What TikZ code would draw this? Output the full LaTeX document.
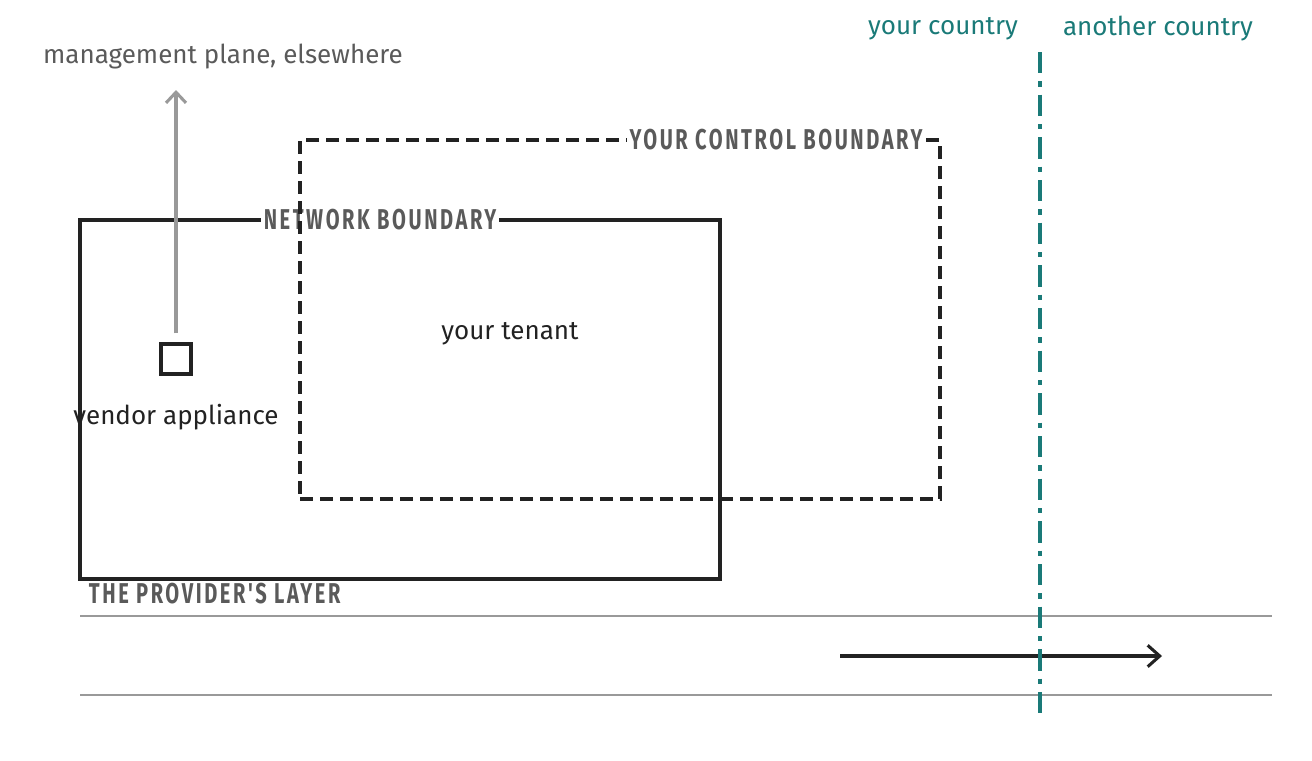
\documentclass[tikz,border=0pt]{standalone}
\usepackage{fontspec}
\setmainfont{Fira Sans}
\newfontfamily\capsfont[FakeStretch=0.7,LetterSpace=9]{Fira Sans Bold}
\usetikzlibrary{arrows.meta}
\definecolor{ink}{HTML}{222222}
\definecolor{labgray}{HTML}{5A5A5A}
\definecolor{linegray}{HTML}{999999}
\definecolor{teal}{HTML}{1A7A78}
\begin{document}
\begin{tikzpicture}[x=0.75pt,y=-0.75pt,
  boundary/.style={draw=ink,line width=2.3pt},
  dashbound/.style={draw=ink,line width=2.3pt,dash pattern=on 10pt off 5pt},
  caplabel/.style={fill=white,text=labgray,inner xsep=2pt,inner ysep=1pt,font=\capsfont\fontsize{21.5}{22}\selectfont},
  plain/.style={text=ink,font=\fontsize{19.5}{22}\selectfont},
  graylab/.style={text=labgray,font=\fontsize{19.5}{22}\selectfont},
  country/.style={text=teal,font=\fontsize{19.5}{22}\selectfont},
  rail/.style={draw=linegray,line width=1.5pt},
  grayarrow/.style={draw=linegray,line width=2.3pt,-{Straight Barb[length=8pt,width=15pt,line width=2.3pt]}},
  blackarrow/.style={draw=ink,line width=2.3pt,-{Straight Barb[length=9pt,width=16pt,line width=2.3pt]}},
  border/.style={draw=teal,line width=2.3pt,dash pattern=on 16pt off 6pt on 4pt off 6pt}]
\useasboundingbox (0,0) rectangle (1312,760);
% rails
\coordinate (r1a) at (80,616); \coordinate (r1b) at (1272,616);
\coordinate (r2a) at (80,695); \coordinate (r2b) at (1272,695);
\draw[rail] (r1a) -- (r1b);
\draw[rail] (r2a) -- (r2b);
% network boundary
\node (net) [boundary,minimum width=480pt,minimum height=269.25pt,inner sep=0pt] at (400,399.5) {};
\node (netlab) [caplabel] at (380,220) {NETWORK BOUNDARY};
% vendor appliance
\node (app) [draw=ink,line width=2.3pt,minimum size=22.5pt,inner sep=0pt] at (176,359) {};
\node (applab) [plain] at (176,417) {vendor appliance};
\coordinate (mgmt) at (176,90);
\draw[grayarrow] ([yshift=6.75pt]app.north) -- (mgmt);
\node (mgmtlab) [graylab] at (223,57) {management plane, elsewhere};
% control boundary
\node (ctl) [dashbound,minimum width=480pt,minimum height=269.25pt,inner sep=0pt] at (620,319.5) {};
\node (ctllab) [caplabel] at (776,140) {YOUR CONTROL BOUNDARY};
\node (tenant) [plain] at (510,334) {your tenant};
% provider layer
\node (provlab) [caplabel,fill=none,anchor=west] at (86,594) {THE PROVIDER'S LAYER};
% traffic arrow
\coordinate (ta) at (840,656); \coordinate (tb) at (1162,656);
\draw[blackarrow] (ta) -- (tb);
% country border
\coordinate (ba) at (1040,52); \coordinate (bb) at (1040,718);
\draw[border] (ba) -- (bb);
\node (yc) [country] at (943,29) {your country};
\node (ac) [country] at (1158,29) {another country};
\end{tikzpicture}
\end{document}
